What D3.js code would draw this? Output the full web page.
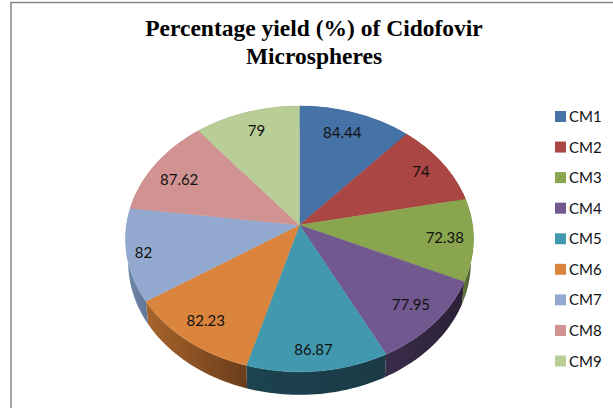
<!DOCTYPE html>
<html><head><meta charset="utf-8">
<script src="https://cdn.jsdelivr.net/npm/d3@7"></script>
<style>html,body{margin:0;padding:0;background:#fff}svg{display:block}</style>
</head><body><svg id="c" width="613" height="408"></svg>
<script>
const categories=["CM1","CM2","CM3","CM4","CM5","CM6","CM7","CM8","CM9"];
const values=[84.44,74,72.38,77.95,86.87,82.23,82,87.62,79];
const valueLabels=["84.44","74","72.38","77.95","86.87","82.23","82","87.62","79"];
const topColors=["#4572a7","#aa4643","#89a54e","#71588f","#4198af","#db843d","#93a9cf","#d19392","#b9cd96"];
const wallLight=["#35567f","#7a3230","#5f7236","#3a2d4b","#1d4350","#a8642c","#7088a8","#9a6c6b","#8a9a70"];
const wallDark=["#2a4463","#5e2725","#46552a","#2a2036","#1a3a45","#6a3d1b","#62789a","#8a6060","#7a8a60"];
const titleLines=["Percentage yield (%) of Cidofovir","Microspheres"];
const labelShiftX=[-2,9,10,8,0,-8,-22,-7,-1];
const labelShiftY=[-3,-4,1,5,14,8,5,3,-4];

const svg=d3.select("#c");
const cx=299.5,apexY=225,R=173,persp=-0.105,yA=107.8,depth=23;
function proj(theta,r=1,down=0){
  const u=r*Math.sin(theta),v=-r*Math.cos(theta),w=1+persp*v;
  const sh=down?0.985:1;
  return [cx+R*u/w*sh,(apexY+yA*v)/w+down];
}
const pie=d3.pie().sort(null)(values);
const line=d3.line();
const defs=svg.append("defs");
function rim(a,b,down=0){
  const n=Math.max(2,Math.ceil((b-a)*40));
  return d3.range(n+1).map(i=>proj(a+(b-a)*i/n,1,down));
}
svg.append("rect").attr("x",11).attr("y",2.5).attr("width",640).attr("height",440)
  .attr("fill","#fff").attr("stroke","#868686").attr("stroke-width",1.5);

pie.forEach((d,i)=>{
  const top=rim(d.startAngle,d.endAngle),bot=rim(d.startAngle,d.endAngle,depth).reverse();
  const g=defs.append("linearGradient").attr("id","w"+i).attr("gradientUnits","userSpaceOnUse")
    .attr("x1",d3.min(top,p=>p[0])).attr("x2",d3.max(top,p=>p[0])).attr("y1",0).attr("y2",0);
  g.append("stop").attr("offset",0).attr("stop-color",wallLight[i]);
  g.append("stop").attr("offset",1).attr("stop-color",wallDark[i]);
  svg.append("path").attr("d",line(top.concat(bot))+"Z").attr("fill",`url(#w${i})`);
});
pie.forEach((d,i)=>{
  const pts=[proj(0,0)].concat(rim(d.startAngle,d.endAngle));
  svg.append("path").attr("d",line(pts)+"Z").attr("fill",topColors[i]).attr("stroke",topColors[i]).attr("stroke-width",0.4);
});
pie.forEach((d,i)=>{
  const mid=(d.startAngle+d.endAngle)/2,p=proj(mid,0.78);
  svg.append("text").attr("x",p[0]+labelShiftX[i]).attr("y",p[1]+5+labelShiftY[i]).attr("text-anchor","middle")
    .attr("font-family","Lato,'Open Sans',sans-serif").attr("font-size",15).attr("fill","#111").text(valueLabels[i]);
});
svg.selectAll(".t").data(titleLines).join("text").attr("x",314).attr("y",(d,i)=>36+i*28)
  .attr("text-anchor","middle").attr("font-family","'Liberation Serif',serif").attr("font-weight","bold")
  .attr("font-size",23.5).attr("fill","#000").text(d=>d);
const ly=d3.scalePoint().domain(categories).range([116.5,361]);
categories.forEach((c,i)=>{
  svg.append("rect").attr("x",555).attr("y",ly(c)-5.5).attr("width",11).attr("height",11).attr("fill",topColors[i]);
  svg.append("text").attr("x",569).attr("y",ly(c)+5.5).attr("font-family","Lato,'Open Sans',sans-serif")
    .attr("font-size",15).attr("fill","#111").text(c);
});
</script></body></html>
